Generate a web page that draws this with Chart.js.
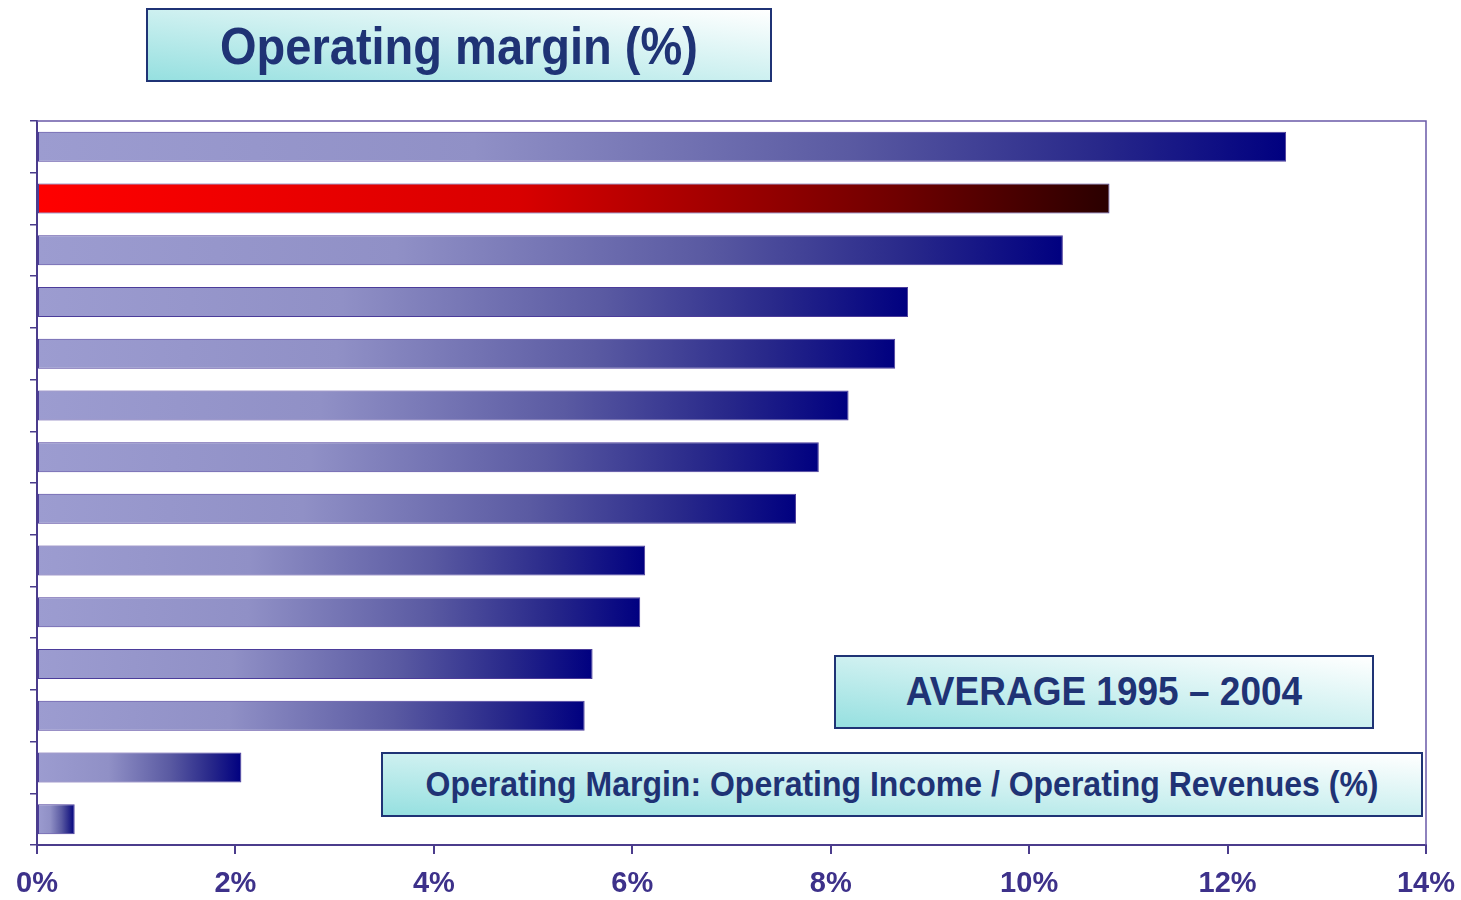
<!DOCTYPE html>
<html>
<head>
<meta charset="utf-8">
<title>Operating margin (%)</title>
<script src="https://cdn.jsdelivr.net/npm/chart.js@4.4.0/dist/chart.umd.min.js"></script>
<style>
body{margin:0;background:#fff;font-family:"Liberation Sans",Arial,sans-serif;}
#wrap{position:relative;width:1461px;height:900px;overflow:hidden;}
#chart{position:absolute;left:0;top:0;}
.box{position:absolute;box-sizing:border-box;border:2px solid #1f3375;
background:linear-gradient(to top right,#96e0e0 0%,#cdf0f0 50%,#ffffff 100%);
color:#1f3375;font-weight:bold;display:flex;align-items:center;justify-content:center;white-space:nowrap;}
.box span{display:inline-block;transform:scaleY(1.12);}
</style>
</head>
<body>
<div id="wrap">
<canvas id="chart" width="1461" height="900"></canvas>
<div class="box" style="left:146px;top:8px;width:626px;height:74px;font-size:47px;"><span>Operating margin (%)</span></div>
<div class="box" style="left:834px;top:655px;width:540px;height:74px;font-size:37px;"><span>AVERAGE 1995 – 2004</span></div>
<div class="box" style="left:381px;top:752px;width:1042px;height:65px;font-size:32px;"><span>Operating Margin: Operating Income / Operating Revenues (%)</span></div>
</div>
<script>
// companies are not named on the chart, only ranked
const ranks = ["1","2","3","4","5","6","7","8","9","10","11","12","13","14"];
const margins = [12.59,10.81,10.34,8.78,8.65,8.18,7.88,7.65,6.13,6.08,5.60,5.52,2.06,0.38];
const highlight = 1;
const xTicks = [0,2,4,6,8,10,12,14];

const axisColor = "#4b3c8c";

function barFill(ctx){
const chart = ctx.chart;
const x = chart.scales.x;
if(!x || ctx.type !== "data") return "#9a9acf";
const x0 = x.getPixelForValue(0);
const x1 = x.getPixelForValue(ctx.raw);
if(!isFinite(x0) || !isFinite(x1)) return ctx.dataIndex === highlight ? "#c00000" : "#6a6ab0";
const g = chart.ctx.createLinearGradient(x0,0,Math.max(x1,x0+1),0);
if(ctx.dataIndex === highlight){
g.addColorStop(0,"#ff0000");
g.addColorStop(0.45,"#d80000");
g.addColorStop(0.8,"#700000");
g.addColorStop(1,"#2a0000");
}else{
g.addColorStop(0,"#9c9cd0");
g.addColorStop(0.35,"#9090c6");
g.addColorStop(0.65,"#5a5aa2");
g.addColorStop(0.85,"#28288a");
g.addColorStop(1,"#000080");
}
return g;
}

const framePlugin = {
id:"frame",
afterDraw(chart){
const a = chart.chartArea;
const c = chart.ctx;
c.save();
c.strokeStyle = "#6a5aa8";
c.lineWidth = 1.5;
c.beginPath();
c.moveTo(a.left,a.top);
c.lineTo(a.right,a.top);
c.lineTo(a.right,a.bottom);
c.stroke();
c.restore();
}
};

const chart = new Chart(document.getElementById("chart"),{
type:"bar",
data:{
labels:ranks,
datasets:[{
data:margins,
backgroundColor:barFill,
borderColor:"#4b3c9a",
borderWidth:1,
borderSkipped:false,
barPercentage:0.58,
categoryPercentage:1
}]
},
options:{
indexAxis:"y",
responsive:false,
animation:false,
layout:{padding:{top:121,left:30,right:35,bottom:0}},
plugins:{legend:{display:false},tooltip:{enabled:false}},
scales:{
x:{
min:0,max:14,
afterBuildTicks:s=>{s.ticks = xTicks.map(v=>({value:v}));},
afterFit:s=>{s.height = 55;s.paddingLeft = 0;s.paddingRight = 0;},
grid:{drawOnChartArea:false,tickLength:9,color:axisColor,lineWidth:2},
border:{color:axisColor,width:2},
ticks:{padding:13,color:"#3d318a",maxRotation:0,
font:{family:"'Liberation Sans', Arial, sans-serif",size:29,weight:"bold"},
callback:v=>v+"%"}
},
y:{
afterFit:s=>{s.width = 7;},
grid:{drawOnChartArea:false,tickLength:7,color:axisColor,lineWidth:1.5,offset:true},
border:{color:axisColor,width:2},
ticks:{display:false}
}
}
},
plugins:[framePlugin]
});
chart.update();
</script>
</body>
</html>
